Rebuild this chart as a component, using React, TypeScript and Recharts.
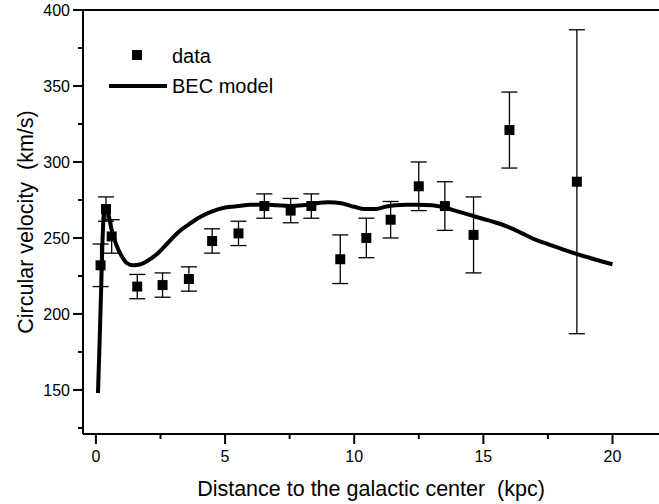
import React from 'react';
import { ComposedChart, Line, Scatter, XAxis, YAxis, ErrorBar, ReferenceLine, Label, ZAxis } from 'recharts';

const dataX = [0.18, 0.39, 0.61, 1.6, 2.58, 3.6, 4.5, 5.52, 6.52, 7.54, 8.34, 9.46, 10.47, 11.41, 12.5, 13.51, 14.62, 16.01, 18.62];
const dataV = [232, 269, 251, 218, 219, 223, 248, 253, 271, 268, 271, 236, 250, 262, 284, 271, 252, 321, 287];
const dataErr = [14, 8, 11, 8, 8, 8, 8, 8, 8, 8, 8, 16, 13, 12, 16, 16, 25, 25, 100];

const modelX = [0.08, 0.14, 0.2, 0.25, 0.3, 0.36, 0.45, 0.6, 0.8, 1.0, 1.2, 1.45, 1.7, 2.0, 2.4, 2.8, 3.2, 3.6, 4.0, 4.5, 5.0, 5.5, 6.0, 6.5, 7.0, 7.5, 8.0, 8.5, 9.0, 9.5, 10.0, 10.4, 10.8, 11.2, 11.6, 12.0, 12.5, 13.0, 13.5, 14.0, 14.5, 15.0, 15.5, 16.0, 16.5, 17.0, 17.5, 18.0, 18.5, 19.0, 19.5, 20.0];
const modelV = [148, 180, 215, 245, 265, 271, 268, 256, 245, 238, 233.5, 232, 232.5, 235, 240, 247, 254, 259, 263.5, 267.5, 270, 271, 271.8, 272, 271.5, 271, 271.5, 272.8, 273.5, 272.8, 270.5, 269, 269, 270.5, 271.5, 271.8, 271.8, 271.5, 270, 267.5, 265, 262.5, 260, 257, 253, 249, 246, 243, 240, 237.5, 235, 232.7];

const xTicks = [0, 2.5, 5, 7.5, 10, 12.5, 15, 17.5, 20];
const yTicks = [125, 150, 175, 200, 225, 250, 275, 300, 325, 350, 375, 400];

const legendLabels = ['data', 'BEC model'];

const points = dataX.map((x, i) => ({ x, y: dataV[i], err: dataErr[i] }));
const curve = modelX.map((x, i) => ({ x, v: modelV[i] }));

const FONT = '"Liberation Sans", Arial, sans-serif';

const XTick = (props: any) => {
  const { x, y, payload } = props;
  const major = payload.value % 5 === 0;
  return (
    <g>
      <line x1={x} x2={x} y1={y} y2={y + (major ? 10 : 5)} stroke="#000" strokeWidth={2} />
      {major && (
        <text x={x} y={y + 28} textAnchor="middle" fontSize={16} fontFamily={FONT} fill="#000">
          {payload.value}
        </text>
      )}
    </g>
  );
};

const YTick = (props: any) => {
  const { x, y, payload } = props;
  const major = payload.value % 50 === 0;
  return (
    <g>
      <line x1={x - (major ? 10 : 5)} x2={x} y1={y} y2={y} stroke="#000" strokeWidth={2} />
      {major && (
        <text x={x - 13} y={y} dy="0.36em" textAnchor="end" fontSize={16} fontFamily={FONT} fill="#000">
          {payload.value}
        </text>
      )}
    </g>
  );
};

const LegendOverlay = () => (
  <svg width={220} height={70} style={{ position: 'absolute', left: 100, top: 40, display: 'block', pointerEvents: 'none' }}>
    <rect x={32} y={10} width={10} height={10} fill="#000" />
    <text x={72} y={23} fontSize={20} fontFamily={FONT} fill="#000">{legendLabels[0]}</text>
    <line x1={9} x2={67} y1={46} y2={46} stroke="#000" strokeWidth={4} />
    <text x={72} y={53} fontSize={20} fontFamily={FONT} fill="#000">{legendLabels[1]}</text>
  </svg>
);

export default function App() {
  return (
    <div style={{ position: 'absolute', left: 0, top: 0, width: 659, height: 504, background: '#fff' }}>
      <ComposedChart width={659} height={504} margin={{ top: 10, right: 0, bottom: 0, left: 0 }}>
        <XAxis
          dataKey="x"
          type="number"
          domain={[-0.5, 21.8]}
          ticks={xTicks}
          allowDataOverflow
          height={70}
          tickSize={0}
          tickMargin={0}
          tickLine={false}
          tick={<XTick />}
          axisLine={{ stroke: '#000', strokeWidth: 2 }}
          interval={0}
        >
          <Label
            content={(p: any) => {
              const vb = p.viewBox || {};
              return (
                <text x={vb.x + vb.width / 2} y={vb.y + 62} textAnchor="middle" fontSize={21.5} fontFamily={FONT} fill="#000" style={{ whiteSpace: 'pre' }}>
                  {'Distance to the galactic center  (kpc)'}
                </text>
              );
            }}
          />
        </XAxis>
        <YAxis
          type="number"
          domain={[121, 400]}
          ticks={yTicks}
          allowDataOverflow
          width={83}
          tickSize={0}
          tickMargin={0}
          tickLine={false}
          tick={<YTick />}
          axisLine={{ stroke: '#000', strokeWidth: 2 }}
          interval={0}
        >
          <Label
            content={(p: any) => {
              const vb = p.viewBox || {};
              const cy = vb.y + vb.height / 2;
              return (
                <text x={25} y={cy} transform={`rotate(-90 25 ${cy})`} dy="0.36em" textAnchor="middle" fontSize={21.5} fontFamily={FONT} fill="#000" style={{ whiteSpace: 'pre' }}>
                  {'Circular velocity  (km/s)'}
                </text>
              );
            }}
          />
        </YAxis>
        <ZAxis range={[100, 100]} />
        <ReferenceLine y={400} stroke="#000" strokeWidth={2} ifOverflow="visible" />
        <Line
          data={curve}
          dataKey="v"
          type="monotone"
          stroke="#000"
          strokeWidth={4}
          dot={false}
          isAnimationActive={false}
          legendType="none"
        />
        <Scatter data={points} dataKey="y" fill="#000" shape="square" isAnimationActive={false}>
          <ErrorBar dataKey="err" direction="y" width={8} stroke="#000" strokeWidth={1.3} />
        </Scatter>
      </ComposedChart>
      <LegendOverlay />
    </div>
  );
}
